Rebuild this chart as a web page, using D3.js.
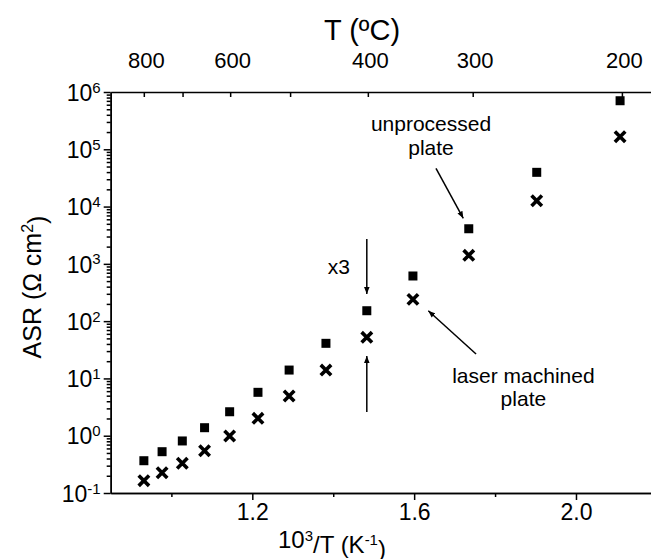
<!DOCTYPE html>
<html>
<head>
<meta charset="utf-8">
<script src="https://cdn.jsdelivr.net/npm/d3@7"></script>
<style>
  body { margin: 0; background: #fff; }
  svg { display: block; font-family: "Liberation Sans", Arial, sans-serif; }
  .axis path, .axis line { stroke: #000; stroke-width: 1.5; }
  .axis text { fill: #000; }
</style>
</head>
<body>
<script>
// 10^3/T values (K^-1)
const invT = [0.932, 0.977, 1.027, 1.082, 1.144, 1.214, 1.291, 1.382, 1.483, 1.597, 1.735, 1.903, 2.109];
// ASR, unprocessed plate (squares)
const asrUnprocessed = [0.366, 0.526, 0.81, 1.38, 2.62, 5.72, 14.0, 41.0, 152, 614, 4100, 39600, 704000];
// ASR, laser machined plate (crosses)
const asrLaser = [0.164, 0.226, 0.330, 0.547, 0.99, 2.01, 4.93, 14.0, 52.2, 240, 1410, 12650, 165600];

const bottomTicks = [1.2, 1.6, 2.0];
const bottomMinor = [1.0, 1.4, 1.8, 2.2];
const topTempTicks = [800, 700, 600, 500, 400, 300, 200];
const topTempLabels = [800, 600, 400, 300, 200];
const decades = [-1, 0, 1, 2, 3, 4, 5, 6];

const W = 651, H = 559;
const svg = d3.select("body").append("svg")
  .attr("width", W)
  .attr("height", H);

const x = d3.scaleLinear().domain([0.85, 2.2]).range([110.7, 656.9]);
const y = d3.scaleLog().domain([0.1, 1e6]).range([493, 92]);

// minor log ticks 2..9 x 10^k
let minorY = [];
decades.slice(0, -1).forEach(k => {
  for (let m = 2; m <= 9; m++) minorY.push(m * Math.pow(10, k));
});

// left axis
svg.append("g")
  .attr("class", "axis")
  .attr("transform", `translate(${x.range()[0]},0)`)
  .call(d3.axisLeft(y).tickValues(minorY).tickSize(4).tickSizeOuter(0).tickFormat(""));

let leftAxis = svg.append("g")
  .attr("class", "axis")
  .attr("transform", `translate(${x.range()[0]},0)`)
  .call(d3.axisLeft(y).tickValues(decades.map(k => Math.pow(10, k)))
    .tickSize(7).tickSizeOuter(0).tickPadding(3).tickFormat(""));

leftAxis.selectAll(".tick text").remove();
leftAxis.selectAll(".tick").each(function(d) {
  let t = d3.select(this).append("text")
    .attr("x", -10)
    .attr("dy", "0.36em")
    .attr("text-anchor", "end")
    .style("font-size", "23px");
  t.append("tspan").text("10");
  t.append("tspan")
    .attr("dy", "-0.55em")
    .style("font-size", "15px")
    .text(Math.round(Math.log10(d)));
});

// bottom axis
svg.append("g")
  .attr("class", "axis")
  .attr("transform", `translate(0,${y.range()[0]})`)
  .call(d3.axisBottom(x).tickValues(bottomMinor).tickSize(4).tickSizeOuter(0).tickFormat(""));

svg.append("g")
  .attr("class", "axis")
  .attr("transform", `translate(0,${y.range()[0]})`)
  .call(d3.axisBottom(x).tickValues(bottomTicks).tickSize(7).tickSizeOuter(0)
    .tickPadding(20).tickFormat(d3.format(".1f")))
  .selectAll("text")
  .attr("dy", "0")
  .style("font-size", "23px");

// top axis, temperature in degC
let topAxis = svg.append("g")
  .attr("class", "axis")
  .attr("transform", `translate(0,${y.range()[1]})`)
  .call(d3.axisTop(x)
    .tickValues(topTempTicks.map(t => 1000 / (t + 273.15)))
    .tickSize(-5).tickSizeOuter(0).tickPadding(24)
    .tickFormat((d, i) => topTempLabels.includes(topTempTicks[i]) ? topTempTicks[i] : ""));
topAxis.selectAll("text")
  .attr("dx", 2)
  .style("font-size", "22px");

// axis titles
svg.append("text")
  .attr("x", 362)
  .attr("y", 40)
  .attr("text-anchor", "middle")
  .style("font-size", "29px")
  .text("T (ºC)");

let xl = svg.append("text")
  .attr("x", 332)
  .attr("y", 548)
  .attr("text-anchor", "middle")
  .style("font-size", "24px");
xl.append("tspan").text("10");
xl.append("tspan").attr("dy", "-0.5em").style("font-size", "15px").text("3");
xl.append("tspan").attr("dy", "0.5em").text("/T (K");
xl.append("tspan").attr("dy", "-0.5em").style("font-size", "15px").text("-1");
xl.append("tspan").attr("dy", "0.5em").text(")");

let yl = svg.append("text")
  .attr("transform", "translate(41,287) rotate(-90)")
  .attr("text-anchor", "middle")
  .style("font-size", "25px");
yl.append("tspan").text("ASR (Ω cm");
yl.append("tspan").attr("dy", "-0.5em").style("font-size", "16px").text("2");
yl.append("tspan").attr("dy", "0.5em").text(")");

// data
const plot = svg.append("g");
const sq = 9;
plot.selectAll(".sq")
  .data(invT.map((v, i) => [v, asrUnprocessed[i]]))
  .enter().append("rect")
  .attr("class", "sq")
  .attr("x", d => x(d[0]) - sq / 2)
  .attr("y", d => y(d[1]) - sq / 2)
  .attr("width", sq)
  .attr("height", sq)
  .attr("fill", "#000");

const cr = 5.2;
plot.selectAll(".cr")
  .data(invT.map((v, i) => [v, asrLaser[i]]))
  .enter().append("path")
  .attr("class", "cr")
  .attr("d", d => {
    let cx = x(d[0]), cy = y(d[1]);
    return `M${cx - cr},${cy - cr}L${cx + cr},${cy + cr}M${cx - cr},${cy + cr}L${cx + cr},${cy - cr}`;
  })
  .attr("stroke", "#000")
  .attr("stroke-width", 3.6)
  .attr("fill", "none");

// annotations
svg.append("defs").append("marker")
  .attr("id", "head")
  .attr("viewBox", "0 0 10 10")
  .attr("refX", 10).attr("refY", 5)
  .attr("markerWidth", 7).attr("markerHeight", 7)
  .attr("markerUnits", "userSpaceOnUse")
  .attr("orient", "auto")
  .append("path")
  .attr("d", "M0,1L10,5L0,9Z")
  .attr("fill", "#000");

// [x0, y0, x1, y1] in data units, head at the second point
const arrows = [
  [1.483, 2720, 1.483, 298],
  [1.483, 2.6, 1.483, 24.6],
  [1.654, 46600, 1.7215, 6240],
  [1.753, 26.7, 1.635, 152]
];
svg.selectAll(".arrow")
  .data(arrows)
  .enter().append("line")
  .attr("class", "arrow")
  .attr("x1", d => x(d[0])).attr("y1", d => y(d[1]))
  .attr("x2", d => x(d[2])).attr("y2", d => y(d[3]))
  .attr("stroke", "#000")
  .attr("stroke-width", 1.5)
  .attr("marker-end", "url(#head)");

const notes = [
  [1.414, 665, "x3"],
  [1.6417, 208000, "unprocessed"],
  [1.6417, 79400, "plate"],
  [1.870, 8.41, "laser machined"],
  [1.870, 3.24, "plate"]
];
svg.selectAll(".note")
  .data(notes)
  .enter().append("text")
  .attr("class", "note")
  .attr("x", d => x(d[0]))
  .attr("y", d => y(d[1]))
  .attr("text-anchor", "middle")
  .style("font-size", "21px")
  .text(d => d[2]);
</script>
</body>
</html>
